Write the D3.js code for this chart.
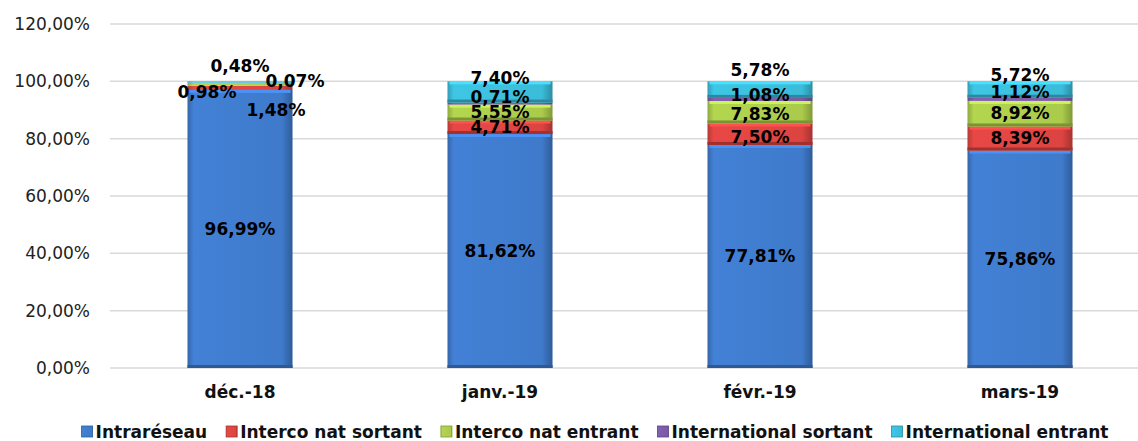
<!DOCTYPE html>
<html>
<head>
<meta charset="utf-8">
<script src="https://cdn.jsdelivr.net/npm/d3@7"></script>
<style>
  body { margin: 0; background: #fff; }
  svg { display: block; font-family: "DejaVu Sans", sans-serif; }
</style>
</head>
<body>
<script>
// data
const months = ["déc.-18", "janv.-19", "févr.-19", "mars-19"];
const seriesNames = ["Intraréseau", "Interco nat sortant", "Interco nat entrant", "International sortant", "International entrant"];
const intrareseau = [96.99, 81.62, 77.81, 75.86];
const intercoSortant = [1.48, 4.71, 7.50, 8.39];
const intercoEntrant = [0.98, 5.55, 7.83, 8.92];
const interSortant = [0.07, 0.71, 1.08, 1.12];
const interEntrant = [0.48, 7.40, 5.78, 5.72];
const yTicks = [0, 20, 40, 60, 80, 100, 120];

const colors = ["#3f7acb", "#dc4441", "#aacb4b", "#7b5aa6", "#3bbcd9"];

// label nudges (dx, dy) per month / series, like the hand-moved labels in the original
const nudge = [
  [[0, 0], [36, 22], [-33, 8], [55, -2], [0, -16]],
  [[0, 0], [0, 0], [0, -1], [0, -7], [0, -14]],
  [[0, 0], [0, 3], [0, 2], [0, -4], [0, -20]],
  [[0, 0], [0, 0], [0, -1], [0, -7], [0, -14]]
];

const W = 1138, H = 441;
const plotLeft = 110, plotRight = 1150, plotTop = 24, plotBottom = 368;

const svg = d3.select("body").append("svg")
    .attr("width", W)
    .attr("height", H);

const rows = months.map((m, i) => ({
  month: m,
  s0: intrareseau[i], s1: intercoSortant[i], s2: intercoEntrant[i], s3: interSortant[i], s4: interEntrant[i]
}));
const keys = ["s0", "s1", "s2", "s3", "s4"];
const stacked = d3.stack().keys(keys)(rows);

const x = d3.scaleBand()
    .domain(months)
    .range([plotLeft, plotRight])
    .paddingInner(0.596)
    .paddingOuter(0.298);

const y = d3.scaleLinear()
    .domain([0, 120])
    .range([plotBottom, plotTop]);

const fmt = v => d3.format(".2f")(v).replace(".", ",") + "%";

// gradients for the bevel look
const defs = svg.append("defs");
colors.forEach((c, i) => {
  const g = defs.append("linearGradient").attr("id", "g" + i)
      .attr("x1", 0).attr("x2", 1).attr("y1", 0).attr("y2", 0);
  const base = d3.color(c);
  g.append("stop").attr("offset", "0%").attr("stop-color", base.darker(0.5));
  g.append("stop").attr("offset", "6%").attr("stop-color", base.brighter(0.15));
  g.append("stop").attr("offset", "90%").attr("stop-color", base);
  g.append("stop").attr("offset", "100%").attr("stop-color", base.darker(0.8));
});

// gridlines
svg.append("g")
  .selectAll("line")
  .data(yTicks)
  .enter().append("line")
    .attr("x1", plotLeft)
    .attr("x2", W)
    .attr("y1", d => y(d))
    .attr("y2", d => y(d))
    .attr("stroke", "#d9d9d9")
    .attr("stroke-width", 1.5);

// y axis labels
svg.append("g")
  .selectAll("text")
  .data(yTicks)
  .enter().append("text")
    .attr("x", 90)
    .attr("y", d => y(d))
    .attr("dy", "0.35em")
    .attr("text-anchor", "end")
    .style("font-size", "17px")
    .attr("fill", "#222")
    .text(d => d3.format(".2f")(d).replace(".", ",") + "%");

// bars
const groups = svg.append("g")
  .selectAll("g")
  .data(stacked)
  .enter().append("g")
    .attr("fill", (d, i) => "url(#g" + i + ")");

groups.selectAll("rect")
  .data(d => d)
  .enter().append("rect")
    .attr("x", d => x(d.data.month))
    .attr("y", d => y(d[1]))
    .attr("width", x.bandwidth())
    .attr("height", d => y(d[0]) - y(d[1]));

// top highlight + bottom shade on the taller segments
groups.each(function(s, si) {
  const base = d3.color(colors[si]);
  const tall = s.filter(d => y(d[0]) - y(d[1]) > 8);
  d3.select(this).selectAll("rect.hi")
    .data(tall)
    .enter().append("rect")
      .attr("class", "hi")
      .attr("x", d => x(d.data.month) + 2)
      .attr("y", d => y(d[1]))
      .attr("width", x.bandwidth() - 4)
      .attr("height", 3)
      .attr("fill", base.brighter(0.5));
  d3.select(this).selectAll("rect.lo")
    .data(tall)
    .enter().append("rect")
      .attr("class", "lo")
      .attr("x", d => x(d.data.month))
      .attr("y", d => y(d[0]) - 3)
      .attr("width", x.bandwidth())
      .attr("height", 3)
      .attr("fill", base.darker(0.9));
});

// value labels
stacked.forEach((s, si) => {
  svg.append("g")
    .selectAll("text")
    .data(s)
    .enter().append("text")
      .attr("x", (d, i) => x(d.data.month) + x.bandwidth() / 2 + nudge[i][si][0])
      .attr("y", (d, i) => y((d[0] + d[1]) / 2) + nudge[i][si][1])
      .attr("dy", "0.35em")
      .attr("text-anchor", "middle")
      .style("font-size", "17px")
      .style("font-weight", "bold")
      .attr("fill", "#000")
      .text(d => fmt(d[1] - d[0]));
});

// x axis labels
svg.append("g")
  .selectAll("text")
  .data(months)
  .enter().append("text")
    .attr("x", d => x(d) + x.bandwidth() / 2)
    .attr("y", 392)
    .attr("dy", "0.35em")
    .attr("text-anchor", "middle")
    .style("font-size", "17px")
    .style("font-weight", "bold")
    .attr("fill", "#111")
    .text(d => d);

// legend
const legend = svg.append("g");
const gap = 19;
let lx = 0;
seriesNames.forEach((n, i) => {
  const it = legend.append("g");
  it.append("rect")
    .attr("x", 0).attr("y", -6)
    .attr("width", 11).attr("height", 11)
    .attr("fill", "url(#g" + i + ")")
    .attr("stroke", d3.color(colors[i]).darker(0.8))
    .attr("stroke-width", 0.8);
  const t = it.append("text")
    .attr("x", 14)
    .attr("dy", "0.35em")
    .style("font-size", "17px")
    .style("font-weight", "bold")
    .attr("fill", "#111")
    .text(n);
  const w = 14 + t.node().getComputedTextLength();
  it.attr("transform", "translate(" + lx + ",0)");
  lx += w + gap;
});
const totalW = lx - gap;
legend.attr("transform", "translate(" + ((72 + 1118) / 2 - totalW / 2) + ",432)");
</script>
</body>
</html>
